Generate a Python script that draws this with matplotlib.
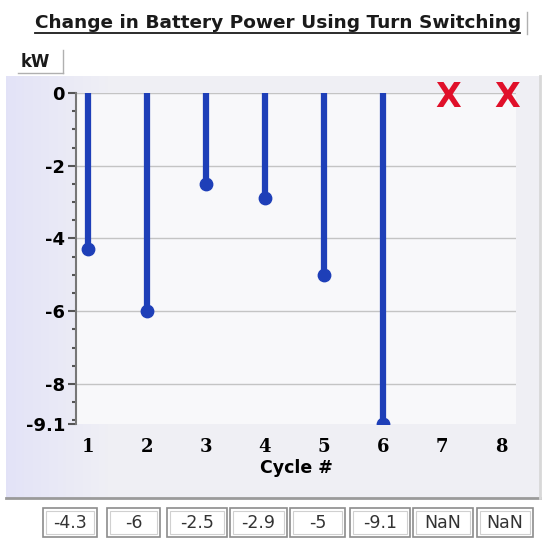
import numpy as np
import matplotlib.pyplot as plt
from matplotlib.lines import Line2D
from matplotlib.patches import Rectangle

# cycle results (NaN = cycle not run)
cycles = [1, 2, 3, 4, 5, 6, 7, 8]
power_kw = [-4.3, -6, -2.5, -2.9, -5, -9.1, np.nan, np.nan]
value_labels = ["-4.3", "-6", "-2.5", "-2.9", "-5", "-9.1", "NaN", "NaN"]
y_ticks = [0, -2, -4, -6, -8, -9.1]
y_ticklabels = ["0", "-2", "-4", "-6", "-8", "-9.1"]

W, H = 546, 539
fig = plt.figure(figsize=(W / 100, H / 100), dpi=100)
fig.patch.set_facecolor("white")

def fx(px):
    return px / W

def fy(py):
    return 1 - py / H

# panel background with a faint bluish gradient on the left
bg = fig.add_axes([fx(6), fy(498), (540 - 6) / W, (498 - 76) / H])
grad = np.linspace(0, 1, 256)
col0 = np.array([0.89, 0.89, 0.97])
col1 = np.array([0.94, 0.94, 0.96])
img = col0[None, :] + (col1 - col0)[None, :] * np.clip(grad * 5, 0, 1)[:, None]
bg.imshow(img[None, :, :], aspect="auto", extent=[0, 1, 0, 1])
bg.set_axis_off()
fig.add_artist(Line2D([fx(6), fx(540)], [fy(498), fy(498)], color="#9a9a9a", lw=2))
fig.add_artist(Line2D([fx(540), fx(540)], [fy(76), fy(498)], color="#d8d8d8", lw=2))

# title, underlined
fig.text(fx(35), fy(28), "Change in Battery Power Using Turn Switching",
         fontsize=13.3, fontweight="bold", color="#1a1a1a", ha="left", va="baseline")
fig.add_artist(Line2D([fx(35), fx(520)], [fy(33), fy(33)], color="#1a1a1a", lw=1.3))
fig.add_artist(Line2D([fx(527), fx(527)], [fy(12), fy(34)], color="#b0b0b0", lw=1))

# unit label
fig.text(fx(21), fy(67), "kW", fontsize=12, fontweight="bold", color="#1a1a1a",
         ha="left", va="baseline")
fig.add_artist(Line2D([fx(63), fx(63)], [fy(50), fy(73)], color="#b0b0b0", lw=1))
fig.add_artist(Line2D([fx(18), fx(63)], [fy(73), fy(73)], color="#b0b0b0", lw=1))

ax = fig.add_axes([fx(76), fy(424), (516 - 76) / W, (424 - 93) / H])
ax.set_facecolor("#f8f8fa")
ax.set_xlim(0.8, 8.25)
ax.set_ylim(-9.1, 0)

for y in [0, -2, -4, -6, -8]:
    ax.axhline(y, color="#c4c4c4", lw=1, zorder=1)

blue = "#1e3fb8"
for c, v in zip(cycles, power_kw):
    if np.isnan(v):
        ax.text(c + 0.1, -0.12, "X", color="#e0102a", fontsize=24, fontweight="bold",
                ha="center", va="center", clip_on=False, zorder=5)
    else:
        ax.plot([c, c], [0, v], color=blue, lw=4.5, solid_capstyle="butt", zorder=3)
        dot = ax.scatter([c], [v], s=80, color=blue, zorder=4)
        dot.set_clip_path(ax.patch)

ax.set_yticks(y_ticks)
ax.set_yticklabels(y_ticklabels, fontweight="bold", fontsize=13)
ax.set_yticks(np.arange(-9.0, 0, 0.5), minor=True)
ax.tick_params(axis="y", which="major", length=6, width=1.5, color="#555555", pad=2)
ax.tick_params(axis="y", which="minor", length=3, width=1.5, color="#555555")
ax.set_xticks(cycles)
ax.set_xticklabels([str(c) for c in cycles], fontweight="bold", fontsize=13,
                   family="DejaVu Serif")
ax.tick_params(axis="x", length=0, pad=10)
ax.set_xlabel("Cycle #", fontweight="bold", fontsize=12.5, labelpad=2)

for side in ["top", "right", "bottom"]:
    ax.spines[side].set_visible(False)
ax.spines["left"].set_color("#777777")
ax.spines["left"].set_linewidth(1.5)

# value indicator boxes below the panel
box_edges = [(43, 97), (107, 160), (167, 227), (230, 287),
             (290, 345), (350, 410), (413, 473), (477, 533)]
for (x0, x1), lab in zip(box_edges, value_labels):
    fig.add_artist(Rectangle((fx(x0), fy(537)), (x1 - x0) / W, 29 / H,
                             transform=fig.transFigure, fc="white", ec="#8c8c8c", lw=1.2))
    fig.add_artist(Rectangle((fx(x0 + 3), fy(534)), (x1 - x0 - 6) / W, 23 / H,
                             transform=fig.transFigure, fc="none", ec="#d0d0d0", lw=0.8))
    fig.text(fx((x0 + x1) / 2), fy(523), lab, fontsize=12.5, color="#333333",
             ha="center", va="center")

fig.savefig("out.png", dpi=100)
